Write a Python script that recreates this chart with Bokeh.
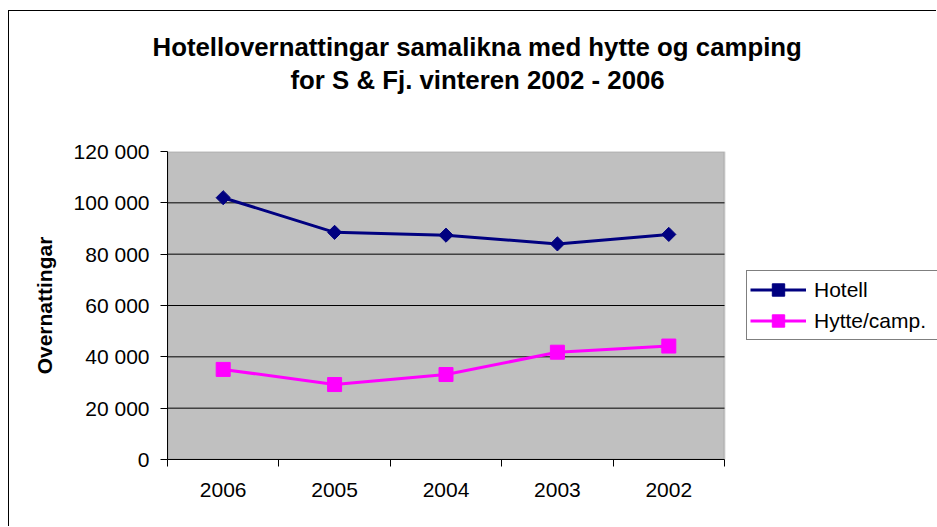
import math
from bokeh.plotting import figure
from bokeh.models import Range1d, FixedTicker, Legend, LegendItem, Title, BoxAnnotation
from bokeh.embed import file_html
from bokeh.resources import INLINE

# ---- data ----
years = ["2006", "2005", "2004", "2003", "2002"]
hotell = [102000, 88500, 87400, 84000, 87700]
hytte = [35100, 29200, 33100, 41800, 44200]
y_ticks = [0, 20000, 40000, 60000, 80000, 100000, 120000]
y_tick_labels = ["0", "20 000", "40 000", "60 000", "80 000", "100 000", "120 000"]
title_lines = ["Hotellovernattingar samalikna med hytte og camping",
               "for S & Fj. vinteren 2002 - 2006"]
y_title = "Overnattingar"
series_names = ["Hotell", "Hytte/camp."]

FONT = "Liberation Sans"

n = len(years)
xs = [i + 0.5 for i in range(n)]

# layout (pixels): frame spans to the right canvas edge so the legend is not clipped;
# the categories occupy the left 557 px of the 770 px frame
FRAME_W, PLOT_W = 770, 557
x_end = n * FRAME_W / PLOT_W

p = figure(width=928, height=516, output_backend="svg", toolbar_location=None,
           x_range=Range1d(0, x_end), y_range=Range1d(y_ticks[0], y_ticks[-1]),
           min_border_left=158, min_border_right=0,
           min_border_top=140, min_border_bottom=68)
p.styles = {"margin-left": "8px", "margin-top": "10px",
            "border-left": "1px solid black", "border-top": "1px solid black"}

p.background_fill_color = "white"
p.border_fill_color = "white"
p.outline_line_color = None
p.xgrid.visible = False
p.ygrid.visible = False

# plot area
p.add_layout(BoxAnnotation(left=0, right=n, bottom=y_ticks[0], top=y_ticks[-1],
                           fill_color="#C0C0C0", fill_alpha=1,
                           line_color="#808080", line_width=2, level="underlay"))
# horizontal gridlines
p.segment(x0=[0] * (len(y_ticks) - 2), x1=[n] * (len(y_ticks) - 2),
          y0=y_ticks[1:-1], y1=y_ticks[1:-1], line_color="black", line_width=1)

# y axis
ya = p.yaxis[0]
ya.ticker = FixedTicker(ticks=y_ticks)
ya.major_label_overrides = {t: l for t, l in zip(y_ticks, y_tick_labels)}
ya.major_label_text_font = FONT
ya.major_label_text_font_size = "21px"
ya.major_label_text_color = "black"
ya.major_tick_out = 7
ya.major_tick_in = 0
ya.minor_tick_line_color = None
ya.major_label_standoff = 11
ya.axis_line_color = "black"
ya.major_tick_line_color = "black"
ya.axis_label = y_title
ya.axis_label_text_font = FONT
ya.axis_label_text_font_size = "21px"
ya.axis_label_text_font_style = "bold"
ya.axis_label_text_color = "black"
ya.axis_label_standoff = 15

# x axis
xa = p.xaxis[0]
xa.bounds = (0, n)
xa.ticker = FixedTicker(ticks=xs, minor_ticks=list(range(n + 1)))
xa.major_label_overrides = {x: y for x, y in zip(xs, years)}
xa.major_label_text_font = FONT
xa.major_label_text_font_size = "21px"
xa.major_label_text_color = "black"
xa.major_tick_line_color = None
xa.major_tick_out = 0
xa.major_tick_in = 0
xa.minor_tick_out = 7
xa.minor_tick_in = 0
xa.minor_tick_line_color = "black"
xa.major_label_standoff = 16
xa.axis_line_color = "black"

# series
l1 = p.line(xs, hotell, line_color="#000080", line_width=3)
s1 = p.scatter(xs, hotell, marker="square", angle=math.pi / 4, size=10,
               fill_color="#000080", line_color="#000080")
l2 = p.line(xs, hytte, line_color="#FF00FF", line_width=3)
s2 = p.scatter(xs, hytte, marker="square", size=14,
               fill_color="#FF00FF", line_color="#FF00FF")

legend = Legend(items=[LegendItem(label=series_names[0], renderers=[l1, s1]),
                       LegendItem(label=series_names[1], renderers=[l2, s2])],
                location=(579, 119))
legend.border_line_color = "black"
legend.border_line_width = 1
legend.background_fill_color = "white"
legend.background_fill_alpha = 1
legend.label_text_font = FONT
legend.label_text_font_size = "21px"
legend.label_text_color = "black"
legend.glyph_width = 56
legend.glyph_height = 31
legend.label_height = 31
legend.label_width = 125
legend.label_standoff = 8
legend.padding = 3
legend.spacing = 0
legend.margin = 0
p.add_layout(legend, "center")

# title (two lines), stacked in the "above" panel (first added = nearest the frame)
def spacer(standoff):
    return Title(text=" ", text_font_size="1px", standoff=standoff)

title_kw = dict(text_font=FONT, text_font_size="25.8px", text_font_style="bold",
                text_color="black", align="left", vertical_align="top")
p.add_layout(spacer(50), "above")
p.add_layout(Title(text=title_lines[1], offset=123, standoff=6, **title_kw), "above")
p.add_layout(Title(text=title_lines[0], offset=-15, standoff=0, **title_kw), "above")
p.add_layout(spacer(16), "above")

open("out.html", "w").write(file_html(p, INLINE))
